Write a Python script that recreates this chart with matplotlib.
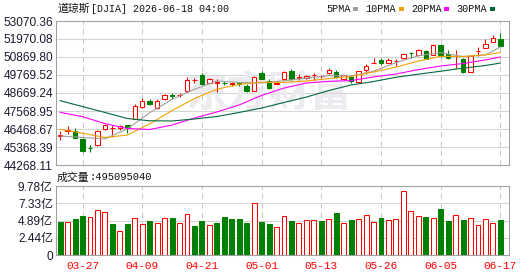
import matplotlib
matplotlib.use("Agg")
import matplotlib.pyplot as plt
from matplotlib.patches import Rectangle

plt.rcParams['font.family'] = ['Liberation Sans', 'Noto Sans CJK SC']

# trading days shown (60 bars)
dates = ["03-24", "03-25", "03-26", "03-27", "03-30", "03-31", "04-01", "04-02",
         "04-06", "04-07", "04-08", "04-09", "04-10", "04-13", "04-14", "04-15",
         "04-16", "04-17", "04-20", "04-21", "04-22", "04-23", "04-24", "04-27",
         "04-28", "04-29", "04-30", "05-01", "05-04", "05-05", "05-06", "05-07",
         "05-08", "05-11", "05-12", "05-13", "05-14", "05-15", "05-18", "05-19",
         "05-20", "05-21", "05-22", "05-26", "05-27", "05-28", "05-29", "06-01",
         "06-02", "06-03", "06-04", "06-05", "06-08", "06-09", "06-10", "06-11",
         "06-12", "06-15", "06-16", "06-17"]

opens = [46070, 46370, 46350, 45860, 45310, 45490, 46450, 46500, 46510, 46690,
         47060, 47830, 48200, 47730, 48280, 48520, 48530, 48810, 49450, 49740,
         49300, 49310, 49310, 49230, 49250, 49120, 48810, 49870, 49420, 49220,
         49510, 50010, 49590, 49570, 49740, 49690, 49870, 49970, 49510, 49630,
         49340, 50060, 50510, 50670, 50520, 50610, 50830, 51140, 50970, 51240,
         51010, 51600, 51040, 50920, 50730, 49970, 51220, 51400, 51770, 51950]
highs = [46350, 46650, 46540, 45900, 45490, 46380, 46790, 46710, 46710, 46730,
         48000, 48350, 48280, 48280, 48590, 48690, 48650, 49670, 49570, 49870,
         49600, 49510, 49420, 49340, 49340, 49200, 49710, 50010, 49510, 49380,
         50030, 50120, 49850, 49740, 49870, 49800, 50180, 50050, 49800, 49680,
         50040, 50420, 50830, 50790, 50790, 50770, 51130, 51150, 51340, 51270,
         51680, 51680, 51280, 51280, 50790, 50990, 51480, 51950, 52210, 52350]
lows = [45800, 46160, 45910, 45040, 45040, 45440, 46430, 46000, 46400, 46240,
        47050, 47730, 47930, 47720, 48240, 48280, 48410, 48800, 49260, 49160,
        49280, 48750, 49160, 49110, 49110, 48750, 48790, 49520, 48890, 49190,
        49500, 49460, 49460, 49550, 49460, 49560, 49860, 49590, 49490, 49260,
        49310, 49830, 50500, 50380, 50500, 50320, 50770, 50790, 50960, 50720,
        50990, 50870, 50730, 50220, 49910, 49950, 50930, 51390, 51760, 51480]
closes = [46100, 46400, 45940, 45120, 45280, 46340, 46710, 46520, 46650, 46590,
          47870, 48200, 47980, 48200, 48550, 48490, 48560, 49460, 49480, 49200,
          49520, 49340, 49290, 49250, 49230, 48810, 49660, 49540, 48960, 49300,
          49930, 49520, 49620, 49710, 49760, 49720, 50080, 49630, 49770, 49380,
          50010, 50320, 50530, 50480, 50670, 50640, 51070, 51120, 51280, 50730,
          51600, 50930, 50790, 50940, 49970, 50930, 51250, 51680, 52050, 51540]

# volume in shares, and whether the bar is drawn as up (r) or down (g)
volumes = [4.72e8, 4.68e8, 5.10e8, 5.53e8, 5.34e8, 6.33e8, 6.05e8, 4.39e8, 3.35e8, 4.39e8,
           5.20e8, 4.39e8, 4.82e8, 4.53e8, 5.20e8, 5.24e8, 4.53e8, 5.81e8, 4.11e8, 4.82e8,
           4.20e8, 4.53e8, 5.38e8, 5.10e8, 5.10e8, 4.53e8, 7.32e8, 4.68e8, 4.39e8, 3.92e8,
           5.48e8, 4.82e8, 4.48e8, 4.91e8, 4.91e8, 4.82e8, 5.05e8, 5.95e8, 4.48e8, 4.91e8,
           5.05e8, 5.62e8, 4.63e8, 5.24e8, 4.91e8, 5.05e8, 9.02e8, 6.19e8, 5.48e8, 5.38e8,
           5.20e8, 6.52e8, 4.82e8, 5.62e8, 4.91e8, 5.20e8, 4.20e8, 5.05e8, 4.53e8, 495095040]
vol_dir = "grggrrrgrg" "rrgrrgrrgg" "rgggggrggr" "rgrrrgrgrg" "rrrgrrrrrg" "rggrgrrrrg"

# moving averages at every third bar
ma_idx = [0, 3, 6, 9, 12, 15, 18, 21, 24, 27, 30, 33, 36, 39, 42, 45, 48, 51, 54, 57, 59]
ma5 = [46040, 45950, 45860, 46480, 47460, 48280, 48900, 49400, 49320, 49280, 49420,
       49580, 49740, 49710, 50000, 50520, 50950, 51130, 50900, 50990, 51490]
ma10 = [46450, 46210, 45950, 46100, 46780, 47600, 48330, 48900, 49200, 49330, 49320,
        49400, 49550, 49680, 49950, 50250, 50620, 50910, 50900, 51000, 51140]
ma20 = [47490, 47220, 46800, 46500, 46440, 46710, 47140, 47510, 47940, 48520, 48970,
        49280, 49380, 49430, 49650, 49830, 50100, 50320, 50470, 50690, 50870]
ma30 = [48200, 47840, 47480, 47110, 46970, 46960, 47080, 47230, 47480, 47750, 48090,
        48420, 48820, 49160, 49370, 49630, 49820, 50000, 50190, 50350, 50500]

price_ticks = [44268.11, 45368.39, 46468.67, 47568.95, 48669.24,
               49769.52, 50869.80, 51970.08, 53070.36]
price_labels = ["44268.11", "45368.39", "46468.67", "47568.95", "48669.24",
                "49769.52", "50869.80", "51970.08", "53070.36"]
vol_ticks = [0, 2.445e8, 4.89e8, 7.335e8, 9.78e8]
vol_labels = ["0", "2.44亿", "4.89亿", "7.33亿", "9.78亿"]
label_idx = [3, 11, 19, 27, 35, 43, 51, 59]

ma_names = ["5PMA", "10PMA", "20PMA", "30PMA"]
ma_colors = ["#a0a0a0", "#f5a300", "#ff00ff", "#00693c"]

RED, GREEN = "#ff0000", "#008000"
GRID, SPINE = "#d4d4d4", "#a0a0a0"
LABEL = "#1a1a30"
W, H = 530, 276


def box(l, t, r, b):
    return [l / W, 1 - b / H, (r - l) / W, (b - t) / H]


def style(a):
    for s in a.spines.values():
        s.set_color(SPINE)
        s.set_linewidth(0.75)
    a.set_xlim(-0.56, 60.16)
    a.set_xticks(label_idx)
    a.xaxis.grid(True, color="#c8c8c8", lw=0.75, ls=(0, (5, 4)))
    a.yaxis.grid(True, color=GRID, lw=0.75)
    a.tick_params(length=0, labelsize=8.6, labelcolor=LABEL, pad=2.2)
    a.set_axisbelow(True)


fig = plt.figure(figsize=(W / 100, H / 100), dpi=100)
ax = fig.add_axes(box(56, 21, 509, 165))
axv = fig.add_axes(box(56, 186, 509, 255))
style(ax)
style(axv)

x = list(range(len(dates)))

# candles
bw = 0.6
for i in x:
    o, c = opens[i], closes[i]
    up = c >= o
    col = RED if up else GREEN
    ax.vlines(i, lows[i], highs[i], color=col, lw=0.75, zorder=2)
    ax.add_patch(Rectangle((i - bw / 2, min(o, c)), bw, max(abs(c - o), 1),
                           facecolor="white" if up else GREEN, edgecolor=col,
                           lw=0.75, zorder=3))

for vals, col in zip([ma5, ma10, ma20, ma30], ma_colors):
    ax.plot(ma_idx, vals, color=col, lw=0.8, zorder=4)

ax.set_ylim(price_ticks[0], price_ticks[-1])
ax.set_yticks(price_ticks)
ax.set_yticklabels(price_labels)
ax.set_xticklabels([])
ax.text(0.47, 0.5, "东方财富", transform=ax.transAxes, fontsize=30,
        color="#ececf0", ha="center", va="center", fontweight="bold",
        family="Noto Sans CJK SC", zorder=1)

# volume bars
for i in x:
    up = vol_dir[i] == "r"
    axv.bar(i, volumes[i], width=0.66, facecolor="white" if up else GREEN,
            edgecolor=RED if up else GREEN, lw=0.75, zorder=3)
axv.set_ylim(0, 9.78e8)
axv.set_yticks(vol_ticks)
axv.set_yticklabels(vol_labels)
axv.set_xticklabels([dates[k] for k in label_idx])
for t in axv.get_xticklabels():
    t.set_color(RED)
    t.set_family("Liberation Mono")
    t.set_fontsize(8)
axv.tick_params(axis="x", pad=4)

# header texts
fig.text(57 / W, 1 - 9 / H, "道琼斯", fontsize=7.8, family="Noto Sans CJK SC",
         va="center", color="#111111")
fig.text(91 / W, 1 - 9 / H, "[DJIA] 2026-06-18 04:00", fontsize=7.2,
         family="Liberation Mono", va="center", color="#111111")
fig.text(57 / W, 1 - 177.5 / H, "成交量", fontsize=7.8, family="Noto Sans CJK SC",
         va="center", color="#111111")
fig.text(89 / W, 1 - 177.5 / H, ":495095040", fontsize=7.6,
         family="Liberation Mono", va="center", color="#111111")

lx = 326
for name, col in zip(ma_names, ma_colors):
    t = fig.text(lx / W, 1 - 9 / H, name, fontsize=7.3, family="Liberation Mono",
                 va="center", color="#111111")
    lx += 6.1 * len(name) + 3
    fig.patches.append(Rectangle((lx / W, 1 - 11 / H), 5 / W, 4 / H,
                                 facecolor=col, edgecolor="none",
                                 transform=fig.transFigure, figure=fig))
    lx += 12

fig.savefig("out.png", dpi=100)
